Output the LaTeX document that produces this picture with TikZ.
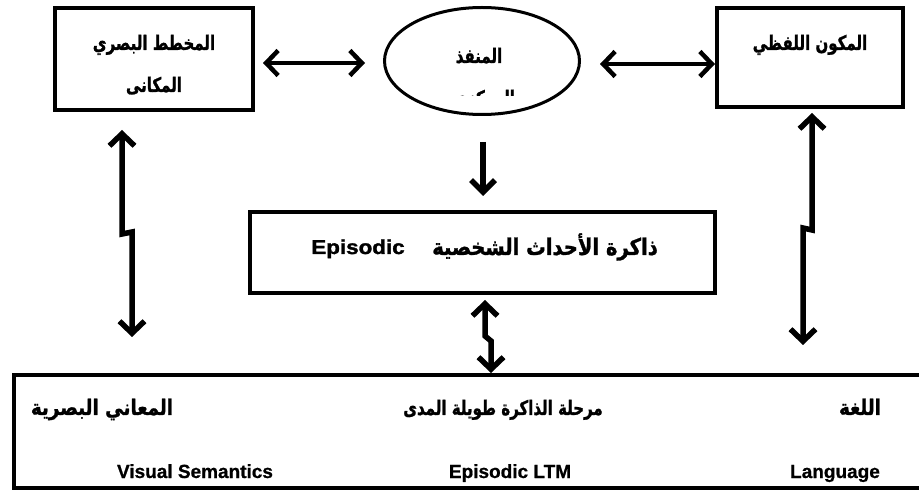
\documentclass[tikz,border=0pt]{standalone}
\usepackage{fontspec}
\setmainfont{Liberation Sans}
\newfontfamily\arN[Script=Arabic,FakeStretch=0.75,FakeBold=1.2]{DejaVu Sans}
\newfontfamily\arW[Script=Arabic,FakeStretch=0.85,FakeBold=1.2]{DejaVu Sans}
\newfontfamily\wideLatin[FakeStretch=1.12,FakeBold=1.5]{Liberation Sans Bold}
\newfontfamily\labLatin[FakeBold=0.8]{Liberation Sans Bold}
\TeXXeTstate=1
\usetikzlibrary{arrows.meta,shapes.geometric}
\newcommand\arA{\arN\bfseries\fontsize{20}{24}\selectfont}
\newcommand\arB{\arW\bfseries\fontsize{23}{27}\selectfont}
\newcommand\arC{\arW\bfseries\fontsize{21.5}{25}\selectfont}
\newcommand\arD{\arN\bfseries\fontsize{20}{24}\selectfont}
\begin{document}
\begin{tikzpicture}[x=1pt,y=-1pt,
  box/.style={draw, line width=4pt, inner sep=0pt},
  tip/.tip={Straight Barb[length=12pt,width=25pt]},
  arr/.style={line width=4.5pt, line join=miter, {tip}-{tip}},
  varr/.style={arr, line width=5.5pt},
  darr/.style={line width=5.5pt, -{Straight Barb[length=12pt,width=24pt]}},
  txt/.style={inner sep=0pt, anchor=base},
  lat/.style={txt, font=\wideLatin\fontsize{20}{24}\selectfont},
  nar/.style={txt, font=\labLatin\fontsize{19}{23}\selectfont},
]
\useasboundingbox (0,0) rectangle (919,494);
% boxes
\node[box, minimum width=198pt, minimum height=102pt] (vs) at (154,59) {};
\node[draw, ellipse, line width=3pt, minimum width=195pt, minimum height=107pt] (ce) at (482,61) {};
\node[box, minimum width=186pt, minimum height=99pt] (pl) at (810,57.5) {};
\node[box, minimum width=465pt, minimum height=81pt] (eb) at (482.5,252.5) {};
\node[box, minimum width=930pt, minimum height=113pt] (lt) at (479,431.5) {};
% texts
\node[txt, font=\arA] (t1) at (154,50) {\beginR المخطط البصري\endR};
\node[txt, font=\arA] (t2) at (154,92) {\beginR المكانى\endR};
\node[txt, font=\arA] (t3) at (479,63) {\beginR المنفذ\endR};
\begin{scope}
  \clip (430,80) rectangle (540,95.5);
  \node[txt, font=\arA] (t4) at (484,105) {\beginR المركزي\endR};
\end{scope}
\node[txt, font=\arA] (t5) at (810,50) {\beginR المكون اللفظي\endR};
\node[lat] (t6) at (358,254) {Episodic};
\node[txt, font=\arB] (t7) at (545,255) {\beginR ذاكرة الأحداث الشخصية\endR};
\node[txt, font=\arC] (t8) at (102,415) {\beginR المعاني البصرية\endR};
\node[txt, font=\arD] (t9) at (503,415) {\beginR مرحلة الذاكرة طويلة المدى\endR};
\node[txt, font=\arC] (t10) at (860,415) {\beginR اللغة\endR};
\node[nar] (t11) at (195,478) {Visual Semantics};
\node[nar] (t12) at (510,478) {Episodic LTM};
\node[nar] (t13) at (835,478) {Language};
% connector coordinates
\coordinate (a1) at (263,63);
\coordinate (a2) at (365,63);
\coordinate (b1) at (600,64);
\coordinate (b2) at (715,64);
\coordinate (c1) at (483,142);
\coordinate (c2) at (483,196);
\coordinate (l1) at (122,130);
\coordinate (l2) at (132,337);
\coordinate (r1) at (812,113);
\coordinate (r2) at (803,345);
\coordinate (m1) at (485,300);
\coordinate (m2) at (491,373);
% connectors
\draw[arr] (a1) -- (a2);
\draw[arr] (b1) -- (b2);
\draw[darr] (c1) -- (c2);
\draw[varr] (l1) -- (122,234) -- (132,232) -- (l2);
\draw[varr] (r1) -- (812,230) -- (803,228) -- (r2);
\draw[varr] (m1) -- (485,336) -- (491,341) -- (m2);
\end{tikzpicture}
\end{document}
